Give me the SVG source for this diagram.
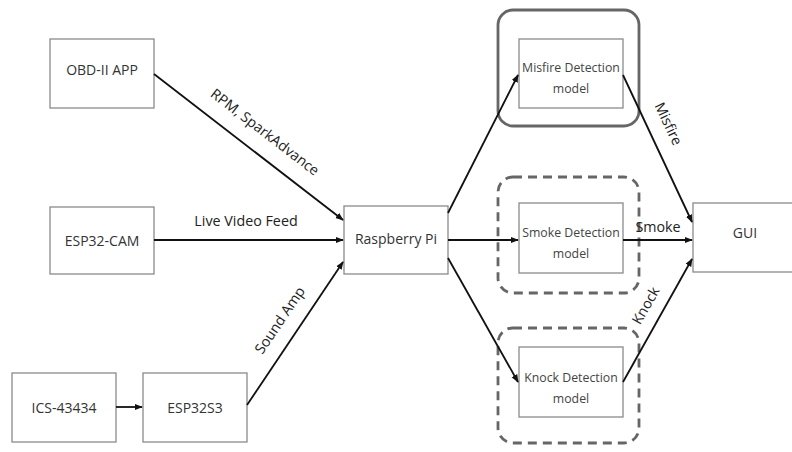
<svg xmlns="http://www.w3.org/2000/svg" width="792" height="452" viewBox="0 0 792 452">
<style>
.box{fill:#fff;stroke:#8a8a8a;stroke-width:1.3}
.t{font-family:"Open Sans","Noto Sans",sans-serif;font-size:14px;fill:#333;text-anchor:middle}
.s{font-family:"Open Sans","Noto Sans",sans-serif;font-size:12.3px;fill:#444;text-anchor:middle}
.l{font-family:"Open Sans","Noto Sans",sans-serif;font-size:14.3px;fill:#222;text-anchor:middle}
.c{stroke:#111;stroke-width:1.8;fill:none;marker-end:url(#a)}
.g{fill:none;stroke:#666;stroke-width:2.8}
.d{stroke-dasharray:9 6}
</style>
<defs>
<marker id="a" viewBox="0 0 10 10" refX="9" refY="5" markerWidth="4.5" markerHeight="4.5" orient="auto">
<path d="M0,1 L10,5 L0,9 z" fill="#111"/>
</marker>
</defs>
<rect width="792" height="452" fill="#fff"/>
<g id="groups">
<rect class="g" x="498" y="10" width="141" height="116" rx="15"/>
<rect class="g d" x="498" y="177" width="141" height="116" rx="15"/>
<rect class="g d" x="498" y="328" width="141" height="115" rx="15"/>
</g>
<g id="obd"><rect class="box" x="50" y="39" width="104" height="69"/><text class="t" x="102" y="75">OBD-II APP</text></g>
<g id="esp32cam"><rect class="box" x="50" y="207" width="104" height="67"/><text class="t" x="102" y="246">ESP32-CAM</text></g>
<g id="ics"><rect class="box" x="12" y="373" width="104" height="69"/><text class="t" x="64" y="413">ICS-43434</text></g>
<g id="esp32s3"><rect class="box" x="143" y="373" width="104" height="69"/><text class="t" x="195" y="413">ESP32S3</text></g>
<g id="rpi"><rect class="box" x="344" y="206" width="104" height="68"/><text class="t" x="396" y="244">Raspberry Pi</text></g>
<g id="misfire"><rect class="box" x="519" y="39" width="104" height="69"/><text class="s" x="571" y="72">Misfire Detection</text><text class="s" x="571" y="93">model</text></g>
<g id="smoke"><rect class="box" x="519" y="203" width="104" height="70"/><text class="s" x="571" y="237">Smoke Detection</text><text class="s" x="571" y="258">model</text></g>
<g id="knock"><rect class="box" x="519" y="347" width="104" height="70"/><text class="s" x="571" y="382">Knock Detection</text><text class="s" x="571" y="403">model</text></g>
<g id="gui"><rect class="box" x="693" y="203" width="104" height="69"/><text class="t" x="745" y="238">GUI</text></g>
<g id="connectors">
<line class="c" x1="154" y1="74" x2="343" y2="220"/>
<line class="c" x1="154" y1="240" x2="343" y2="240"/>
<line class="c" x1="116" y1="407" x2="142" y2="407"/>
<line class="c" x1="247" y1="405" x2="343" y2="262"/>
<line class="c" x1="448" y1="213" x2="518" y2="75"/>
<line class="c" x1="448" y1="240" x2="518" y2="240"/>
<line class="c" x1="448" y1="258" x2="518" y2="382"/>
<line class="c" x1="623" y1="75" x2="692" y2="222"/>
<line class="c" x1="623" y1="240" x2="692" y2="240"/>
<line class="c" x1="623" y1="382" x2="692" y2="259"/>
<text class="l" transform="translate(262,136) rotate(37.5)">RPM, SparkAdvance</text>
<text class="l" x="246" y="226">Live Video Feed</text>
<text class="l" transform="translate(284,323) rotate(-56)">Sound Amp</text>
<text class="l" transform="translate(664,126) rotate(64.5)">Misfire</text>
<text class="l" x="658" y="232">Smoke</text>
<text class="l" transform="translate(650,308) rotate(-60)">Knock</text>
</g>
</svg>
